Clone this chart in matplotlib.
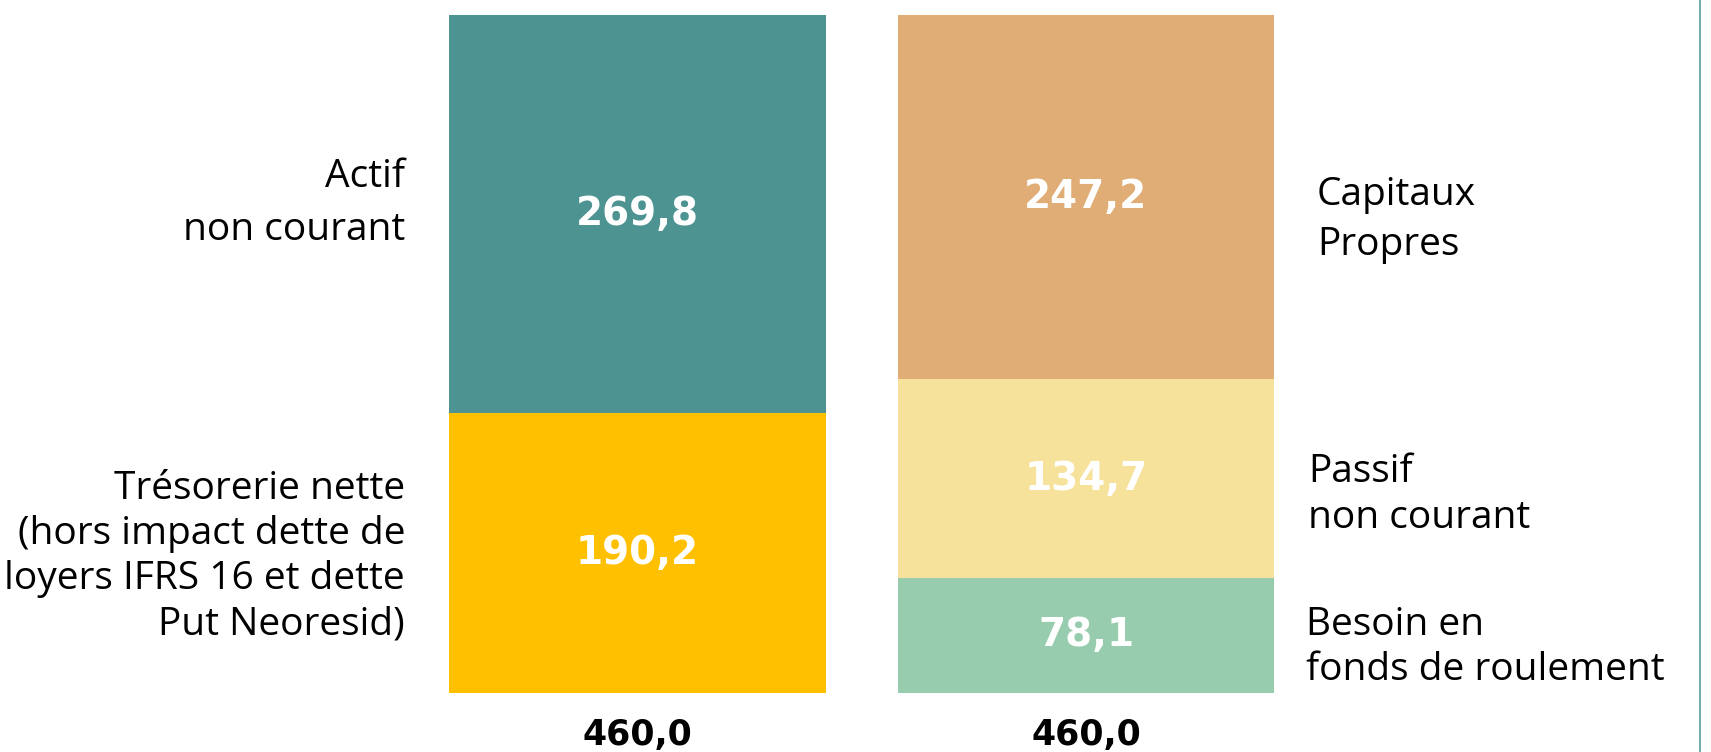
import matplotlib
matplotlib.use("Agg")
import matplotlib.pyplot as plt
from matplotlib.lines import Line2D

# ---------------- data ----------------
bars = ["Actif", "Passif"]
left_segments = [190.2, 269.8]             # bottom -> top
left_colors = ["#FFC000", "#4C9392"]
left_labels = ["Trésorerie nette\n(hors impact dette de\nloyers IFRS 16 et dette\nPut Neoresid)",
               "Actif\nnon courant"]
right_segments = [78.1, 134.7, 247.2]      # bottom -> top
right_colors = ["#97CDAE", "#F7E29C", "#DFAD75"]
right_labels = ["Besoin en\nfonds de roulement", "Passif\nnon courant", "Capitaux\nPropres"]
totals = [460.0, 460.0]

def fmt(v):
    return f"{v:.1f}".replace(".", ",")

# ---------------- layout (pixels from top-left of a 1711x752 canvas) ----------------
W, H = 1711, 752
fig = plt.figure(figsize=(W / 100, H / 100), dpi=100)
ax = fig.add_axes([0, 0, 1, 1])

x0_px, x1_px = 637.5, 1086.0     # bar centres
base_px, top_px = 693.0, 15.0    # y of value 0 and of value 460
sx = x1_px - x0_px
sy = (base_px - top_px) / totals[0]
ax.set_xlim(-x0_px / sx, (W - x0_px) / sx)
ax.set_ylim(-(H - base_px) / sy, base_px / sy)
ax.axis("off")

bar_w = 376.5 / sx
VAL_FONT = ["DejaVu Sans"]
LAB_FONT = ["Open Sans", "DejaVu Sans"]

def draw_stack(xpos, segs, cols):
    bottom = 0.0
    for v, c in zip(segs, cols):
        ax.bar(xpos, v, bottom=bottom, width=bar_w, color=c, edgecolor="none")
        ax.text(xpos, bottom + v / 2, fmt(v), ha="center", va="center",
                color="white", fontsize=28, fontweight="bold", family=VAL_FONT)
        bottom += v

draw_stack(0, left_segments, left_colors)
draw_stack(1, right_segments, right_colors)

# totals under bars
for i, t in enumerate(totals):
    ax.text(i, -(745 - base_px) / sy, fmt(t), ha="center", va="baseline",
            color="black", fontsize=25, fontweight="bold", family=VAL_FONT)

# category labels
def fig_text(px, py, s, ha):
    fig.text(px / W, 1 - py / H, s, ha=ha, va="baseline", fontsize=28,
             color="black", family=LAB_FONT)

left_layout = [(405, 499, 45), (405, 187, 53)]
for (px, py, sp), lab in zip(left_layout, left_labels):
    for k, line in enumerate(lab.split("\n")):
        fig_text(px, py + k * sp, line, "right")

right_layout = [(1306, 635, 45), (1308, 482, 46), (1317, 205, 50)]
for (px, py, sp), lab in zip(right_layout, right_labels):
    for k, line in enumerate(lab.split("\n")):
        fig_text(px, py + k * sp, line, "left")

# thin vertical rule on the right
fig.add_artist(Line2D([1700 / W, 1700 / W], [0, 1], color="#5B9EA0", linewidth=1.2,
                      transform=fig.transFigure))

fig.savefig("out.png", dpi=100, facecolor="white")
